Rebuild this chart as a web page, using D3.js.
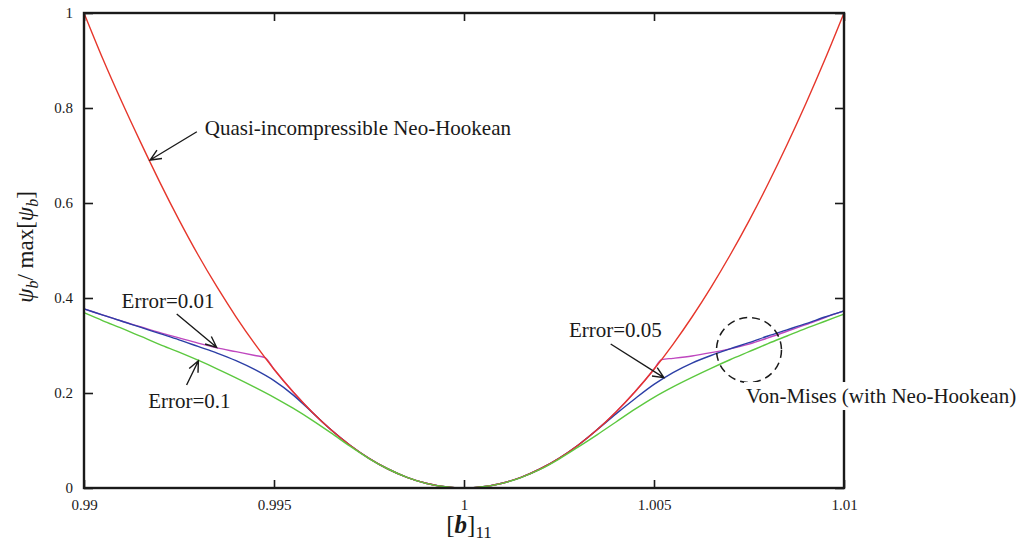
<!DOCTYPE html>
<html>
<head>
<meta charset="utf-8">
<script src="https://cdn.jsdelivr.net/npm/d3@7"></script>
<style>
  html, body { margin: 0; padding: 0; background: #fff; }
  svg { display: block; }
  svg text { font-family: "Liberation Serif", "DejaVu Serif", serif; fill: #1a1a1a; }
</style>
</head>
<body>
<svg id="chart" width="1027" height="545"></svg>
<script>
// Axis ticks
const xTicks = [0.99, 0.995, 1, 1.005, 1.01];
const xTickLabels = ["0.99", "0.995", "1", "1.005", "1.01"];
const yTicks = [0, 0.2, 0.4, 0.6, 0.8, 1];
const yTickLabels = ["0", "0.2", "0.4", "0.6", "0.8", "1"];

// Stretch component [b]11 sampled for the shared curves
const stretch = [
  0.99, 0.9905, 0.991, 0.9915, 0.992, 0.9925, 0.993, 0.9935, 0.994, 0.9945,
  0.995, 0.9955, 0.996, 0.9965, 0.997, 0.9975, 0.998, 0.9985, 0.999, 0.9995,
  1.0,
  1.0005, 1.001, 1.0015, 1.002, 1.0025, 1.003, 1.0035, 1.004, 1.0045, 1.005,
  1.0055, 1.006, 1.0065, 1.007, 1.0075, 1.008, 1.0085, 1.009, 1.0095, 1.01
];

// Quasi-incompressible Neo-Hookean energy (normalised)
const neoHookean = [
  1.0, 0.9025, 0.812, 0.726, 0.643, 0.5645, 0.491, 0.4232, 0.3605, 0.3028,
  0.25, 0.2025, 0.16, 0.1225, 0.09, 0.0625, 0.04, 0.0225, 0.01, 0.0025,
  0,
  0.0025, 0.01, 0.0225, 0.04, 0.0625, 0.09, 0.1225, 0.16, 0.2025, 0.25,
  0.3025, 0.36, 0.4225, 0.49, 0.5625, 0.64, 0.7225, 0.81, 0.9025, 1.0
];

// Von-Mises (with Neo-Hookean), Error = 0.1
const vonMisesErr010 = [
  0.369, 0.352, 0.336, 0.319, 0.302, 0.286, 0.269, 0.251, 0.232, 0.212,
  0.191, 0.168, 0.143, 0.116, 0.088, 0.062, 0.040, 0.0225, 0.0098, 0.0025,
  0,
  0.0025, 0.0098, 0.022, 0.039, 0.061, 0.086, 0.112, 0.139, 0.166, 0.191,
  0.213, 0.233, 0.252, 0.270, 0.287, 0.304, 0.320, 0.336, 0.351, 0.366
];

// Von-Mises (with Neo-Hookean), Error = 0.05
const vonMisesErr005 = [
  0.377, 0.364, 0.351, 0.338, 0.325, 0.312, 0.298, 0.284, 0.268, 0.249,
  0.226, 0.196, 0.1595, 0.1225, 0.09, 0.0625, 0.04, 0.0225, 0.01, 0.0025,
  0,
  0.0025, 0.01, 0.0225, 0.04, 0.0625, 0.09, 0.1225, 0.156, 0.188, 0.218,
  0.243, 0.263, 0.279, 0.293, 0.306, 0.320, 0.333, 0.346, 0.360, 0.373
];

// Von-Mises (with Neo-Hookean), Error = 0.01 (own sampling: it meets the
// Neo-Hookean curve at a kink on each side)
const stretchErr001 = [
  0.99, 0.9905, 0.991, 0.9915, 0.992, 0.9925, 0.993, 0.9935, 0.994, 0.9945,
  0.99476, 0.995, 0.9955, 0.996, 0.9965, 0.997, 0.9975, 0.998, 0.9985, 0.999,
  0.9995, 1.0, 1.0005, 1.001, 1.0015, 1.002, 1.0025, 1.003, 1.0035, 1.004,
  1.0045, 1.005, 1.0052, 1.0055, 1.006, 1.0065, 1.007, 1.0075, 1.008, 1.0085,
  1.009, 1.0095, 1.01
];
const vonMisesErr001 = [
  0.377, 0.364, 0.351, 0.339, 0.327, 0.316, 0.305, 0.295, 0.287, 0.279,
  0.2746, 0.25, 0.2025, 0.16, 0.1225, 0.09, 0.0625, 0.04, 0.0225, 0.01,
  0.0025, 0, 0.0025, 0.01, 0.0225, 0.04, 0.0625, 0.09, 0.1225, 0.16,
  0.2025, 0.25, 0.2704, 0.273, 0.278, 0.285, 0.293, 0.303, 0.316, 0.330,
  0.344, 0.359, 0.373
];

// Annotations: label text position and arrow tail -> tip, in data units
const labels = [
  { text: "Quasi-incompressible Neo-Hookean", x: 0.99318, y: 0.7432, boxed: false },
  { text: "Error=0.01", x: 0.99099, y: 0.3789, boxed: false },
  { text: "Error=0.1", x: 0.99169, y: 0.1684, boxed: false },
  { text: "Error=0.05", x: 1.00276, y: 0.3179, boxed: false },
  { text: "Von-Mises (with Neo-Hookean)", x: 1.00742, y: 0.1789, boxed: true }
];
const arrows = [
  { x0: 0.99297, y0: 0.750, x1: 0.99174, y1: 0.6905 },
  { x0: 0.99244, y0: 0.3663, x1: 0.99349, y1: 0.2962 },
  { x0: 0.99270, y0: 0.2168, x1: 0.99301, y1: 0.268 },
  { x0: 1.00386, y0: 0.3032, x1: 1.00526, y1: 0.2322 }
];
const highlight = { x: 1.0075, y: 0.2905, r: 0.000855 };

const W = 1027, H = 545;
const margin = { left: 84, right: 183, top: 13, bottom: 57 };
const iw = W - margin.left - margin.right;
const ih = H - margin.top - margin.bottom;
const serif = "'Liberation Serif', 'DejaVu Serif', serif";

const svg = d3.select("#chart");
const g = svg.append("g").attr("transform", `translate(${margin.left},${margin.top})`);

const x = d3.scaleLinear().domain([0.99, 1.01]).range([0, iw]);
const y = d3.scaleLinear().domain([0, 1]).range([ih, 0]);

const ink = "#1a1a1a";

// Curves
const line = d3.line().curve(d3.curveMonotoneX).x(d => x(d[0])).y(d => y(d[1]));
const series = [
  { xs: stretchErr001, ys: vonMisesErr001, color: "#bf47bf" },
  { xs: stretch, ys: vonMisesErr005, color: "#2c3fa6" },
  { xs: stretch, ys: neoHookean, color: "#e6362b" },
  { xs: stretch, ys: vonMisesErr010, color: "#5cc83f" }
];
series.forEach(s => {
  g.append("path")
    .datum(s.xs.map((v, i) => [v, s.ys[i]]))
    .attr("d", line)
    .attr("fill", "none")
    .attr("stroke", s.color)
    .attr("stroke-width", 1.4);
});

// Axes with inward ticks on all four sides
const fmtX = v => xTickLabels[xTicks.indexOf(v)];
const fmtY = v => yTickLabels[yTicks.indexOf(v)];

const styleAxis = sel => {
  sel.attr("font-family", null);
  sel.select(".domain").remove();
  sel.selectAll(".tick line").attr("stroke", ink).attr("stroke-width", 1.6);
  sel.selectAll(".tick text")
    .style("font-family", serif)
    .style("font-size", "15px")
    .attr("fill", ink);
};

g.append("g").attr("transform", `translate(0,${ih})`)
  .call(d3.axisBottom(x).tickValues(xTicks).tickFormat(fmtX).tickSize(-8).tickPadding(11))
  .call(styleAxis);
g.append("g")
  .call(d3.axisTop(x).tickValues(xTicks).tickFormat("").tickSize(-8))
  .call(styleAxis);
g.append("g")
  .call(d3.axisLeft(y).tickValues(yTicks).tickFormat(fmtY).tickSize(-9).tickPadding(11))
  .call(styleAxis);
g.append("g").attr("transform", `translate(${iw},0)`)
  .call(d3.axisRight(y).tickValues(yTicks).tickFormat("").tickSize(-9))
  .call(styleAxis);

// Frame
g.append("rect")
  .attr("x", 0).attr("y", 0).attr("width", iw).attr("height", ih)
  .attr("fill", "none").attr("stroke", ink).attr("stroke-width", 2.4);

// Dashed circle around the Von-Mises curves
g.append("circle")
  .attr("cx", x(highlight.x)).attr("cy", y(highlight.y))
  .attr("r", x(highlight.x + highlight.r) - x(highlight.x))
  .attr("fill", "none").attr("stroke", ink).attr("stroke-width", 1.5)
  .attr("stroke-dasharray", "8,5");

// Arrows with open heads
arrows.forEach(a => {
  const px0 = x(a.x0), py0 = y(a.y0), px1 = x(a.x1), py1 = y(a.y1);
  const ang = Math.atan2(py1 - py0, px1 - px0);
  const len = 12, spread = 0.42;
  const h1 = [px1 - len * Math.cos(ang - spread), py1 - len * Math.sin(ang - spread)];
  const h2 = [px1 - len * Math.cos(ang + spread), py1 - len * Math.sin(ang + spread)];
  g.append("path")
    .attr("d", `M${px0},${py0}L${px1},${py1}M${h1[0]},${h1[1]}L${px1},${py1}L${h2[0]},${h2[1]}`)
    .attr("fill", "none").attr("stroke", ink).attr("stroke-width", 1.4);
});

// Labels (the one crossing the frame sits on a white backing)
labels.forEach(d => {
  const t = g.append("text")
    .attr("x", x(d.x)).attr("y", y(d.y))
    .style("font-family", serif)
    .style("font-size", "21px")
    .text(d.text);
  if (d.boxed) {
    const b = t.node().getBBox();
    g.insert("rect", () => t.node())
      .attr("x", b.x - 2).attr("y", b.y - 2)
      .attr("width", b.width + 4).attr("height", b.height + 4)
      .attr("fill", "#fff");
  }
});

// Y-axis title: psi_b / max[psi_b]
const yt = svg.append("text")
  .attr("transform", "translate(33,247) rotate(-90)")
  .attr("text-anchor", "middle")
  .style("font-family", serif)
  .style("font-size", "23px");
yt.append("tspan").attr("font-style", "italic").text("ψ");
yt.append("tspan").attr("font-style", "italic").style("font-size", "16px").attr("dy", 5).text("b");
yt.append("tspan").attr("dy", -5).text("/ max[");
yt.append("tspan").attr("font-style", "italic").text("ψ");
yt.append("tspan").attr("font-style", "italic").style("font-size", "16px").attr("dy", 5).text("b");
yt.append("tspan").attr("dy", -5).text("]");

// X-axis title: [b]11
const xt = svg.append("text")
  .attr("x", margin.left + x(1) + 5).attr("y", 533)
  .attr("text-anchor", "middle")
  .style("font-family", serif)
  .style("font-size", "25px");
xt.append("tspan").text("[");
xt.append("tspan").attr("font-weight", "bold").attr("font-style", "italic").text("b");
xt.append("tspan").text("]");
xt.append("tspan").style("font-size", "17px").attr("dy", 5).text("11");
</script>
</body>
</html>
